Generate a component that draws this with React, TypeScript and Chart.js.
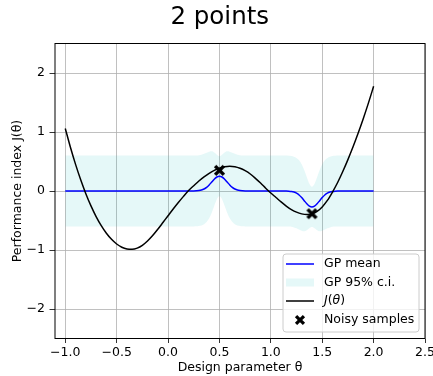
import React, { useEffect, useRef } from 'react';
import { Chart, registerables } from 'chart.js';

Chart.register(...registerables);

// ---- data ----
const jTheta = [-1.0, -0.95, -0.9, -0.85, -0.8, -0.75, -0.7, -0.65, -0.6, -0.55, -0.5, -0.45, -0.4, -0.35, -0.3, -0.25, -0.2, -0.15, -0.1, -0.05, 0, 0.05, 0.1, 0.15, 0.2, 0.25, 0.3, 0.35, 0.4, 0.45, 0.5, 0.55, 0.6, 0.65, 0.7, 0.75, 0.8, 0.85, 0.9, 0.95, 1.0, 1.05, 1.1, 1.15, 1.2, 1.25, 1.3, 1.35, 1.4, 1.45, 1.5, 1.55, 1.6, 1.65, 1.7, 1.75, 1.8, 1.85, 1.9, 1.95, 2.0];
const jValues = [1.06, 0.741, 0.451, 0.19, -0.045, -0.252, -0.433, -0.587, -0.716, -0.819, -0.898, -0.953, -0.983, -0.989, -0.969, -0.921, -0.848, -0.756, -0.649, -0.535, -0.42, -0.306, -0.196, -0.091, 0.008, 0.09, 0.17, 0.24, 0.3, 0.35, 0.385, 0.41, 0.42, 0.411, 0.385, 0.344, 0.288, 0.215, 0.135, 0.048, -0.035, -0.11, -0.185, -0.255, -0.314, -0.359, -0.388, -0.4, -0.389, -0.346, -0.27, -0.16, -0.017, 0.144, 0.33, 0.532, 0.749, 0.982, 1.23, 1.494, 1.774];

const gpTheta = [-1.0, 0.25, 0.275, 0.3, 0.325, 0.35, 0.375, 0.4, 0.425, 0.45, 0.475, 0.5, 0.525, 0.55, 0.575, 0.6, 0.625, 0.65, 0.675, 0.7, 0.725, 0.75, 1.15, 1.175, 1.2, 1.225, 1.25, 1.275, 1.3, 1.325, 1.35, 1.375, 1.4, 1.425, 1.45, 1.475, 1.5, 1.525, 1.55, 1.575, 1.6, 1.625, 1.65, 2.0];
const gpMean = [0, 0.001, 0.003, 0.007, 0.016, 0.034, 0.062, 0.103, 0.152, 0.2, 0.237, 0.25, 0.237, 0.2, 0.152, 0.103, 0.062, 0.034, 0.016, 0.007, 0.003, 0.001, -0.001, -0.003, -0.008, -0.018, -0.036, -0.067, -0.111, -0.164, -0.216, -0.255, -0.27, -0.255, -0.216, -0.164, -0.111, -0.067, -0.036, -0.018, -0.008, -0.003, -0.001, 0];
const gpUpper = [0.6, 0.6, 0.603, 0.607, 0.615, 0.63, 0.649, 0.667, 0.672, 0.651, 0.613, 0.59, 0.613, 0.651, 0.672, 0.667, 0.649, 0.63, 0.615, 0.607, 0.603, 0.6, 0.6, 0.597, 0.592, 0.581, 0.56, 0.52, 0.453, 0.356, 0.235, 0.121, 0.07, 0.121, 0.235, 0.356, 0.453, 0.52, 0.56, 0.581, 0.592, 0.597, 0.6, 0.6];
const gpLower = [-0.6, -0.6, -0.597, -0.593, -0.583, -0.562, -0.525, -0.461, -0.368, -0.251, -0.139, -0.09, -0.139, -0.251, -0.368, -0.461, -0.525, -0.562, -0.583, -0.593, -0.597, -0.6, -0.601, -0.603, -0.608, -0.617, -0.632, -0.654, -0.675, -0.684, -0.667, -0.631, -0.61, -0.631, -0.667, -0.684, -0.675, -0.654, -0.632, -0.617, -0.608, -0.603, -0.601, -0.6];

const sampleTheta = [0.5, 1.4];
const sampleJ = [0.35, -0.385];

const xTicks = [-1.0, -0.5, 0, 0.5, 1.0, 1.5, 2.0, 2.5];
const yTicks = [-2, -1, 0, 1, 2];

const FAMILY = '"DejaVu Sans", sans-serif';
const BAND = 'rgba(0,191,191,0.1)';

const pts = (xs: number[], ys: number[]) => xs.map((x, i) => ({ x, y: ys[i] }));

function makeXMarker(size: number, arm: number, half: number): HTMLCanvasElement {
  const c = document.createElement('canvas');
  c.width = size;
  c.height = size;
  const g = c.getContext('2d')!;
  g.translate(size / 2, size / 2);
  g.rotate(Math.PI / 4);
  g.fillStyle = '#000';
  g.fillRect(-arm, -half, 2 * arm, 2 * half);
  g.fillRect(-half, -arm, 2 * half, 2 * arm);
  return c;
}

export default function App() {
  const ref = useRef<HTMLCanvasElement>(null);

  useEffect(() => {
    const marker = makeXMarker(13, 6.2, 1.75);

    const frameLegend = {
      id: 'frameLegend',
      afterDraw(chart: any) {
        const { ctx, chartArea: ca } = chart;
        ctx.save();
        ctx.strokeStyle = '#000';
        ctx.lineWidth = 1;
        ctx.strokeRect(ca.left, ca.top, ca.right - ca.left, ca.bottom - ca.top);

        const w = 136;
        const h = 78;
        const x0 = ca.right - 6 - w;
        const y0 = ca.bottom - 6.5 - h;
        const r = 3;
        ctx.beginPath();
        ctx.moveTo(x0 + r, y0);
        ctx.lineTo(x0 + w - r, y0);
        ctx.arcTo(x0 + w, y0, x0 + w, y0 + r, r);
        ctx.lineTo(x0 + w, y0 + h - r);
        ctx.arcTo(x0 + w, y0 + h, x0 + w - r, y0 + h, r);
        ctx.lineTo(x0 + r, y0 + h);
        ctx.arcTo(x0, y0 + h, x0, y0 + h - r, r);
        ctx.lineTo(x0, y0 + r);
        ctx.arcTo(x0, y0, x0 + r, y0, r);
        ctx.closePath();
        ctx.fillStyle = 'rgba(255,255,255,0.8)';
        ctx.fill();
        ctx.strokeStyle = '#cccccc';
        ctx.lineWidth = 1;
        ctx.stroke();

        const hx1 = x0 + 3;
        const hx2 = x0 + 31;
        const tx = x0 + 41;
        const rows = [y0 + 10, y0 + 28.5, y0 + 47, y0 + 66];
        const normal = `12.5px ${FAMILY}`;
        const italic = `italic 12.5px ${FAMILY}`;
        ctx.textBaseline = 'middle';
        ctx.textAlign = 'left';
        ctx.fillStyle = '#000';

        // GP mean
        ctx.strokeStyle = '#0000ff';
        ctx.lineWidth = 1.5;
        ctx.beginPath();
        ctx.moveTo(hx1, rows[0]);
        ctx.lineTo(hx2, rows[0]);
        ctx.stroke();
        ctx.font = normal;
        ctx.fillText('GP mean', tx, rows[0]);

        // CI patch
        ctx.fillStyle = BAND;
        ctx.fillRect(hx1, rows[1] - 4, hx2 - hx1, 8);
        ctx.fillStyle = '#000';
        ctx.fillText('GP 95% c.i.', tx, rows[1]);

        // J line
        ctx.strokeStyle = '#000';
        ctx.beginPath();
        ctx.moveTo(hx1, rows[2]);
        ctx.lineTo(hx2, rows[2]);
        ctx.stroke();
        const parts: [string, string][] = [['J', italic], ['(', normal], ['θ', italic], [')', normal]];
        let cx = tx;
        for (const [t, f] of parts) {
          ctx.font = f;
          ctx.fillText(t, cx, rows[2]);
          cx += ctx.measureText(t).width;
        }

        // samples
        const m = makeXMarker(12, 5.6, 1.6);
        ctx.drawImage(m, (hx1 + hx2) / 2 - 6, rows[3] - 6);
        ctx.font = normal;
        ctx.fillText('Noisy samples', tx, rows[3]);
        ctx.restore();
      },
    };

    const axisCommon = {
      grid: { color: '#b0b0b0', lineWidth: 0.8, tickColor: '#000', tickLength: 5, drawTicks: true },
      border: { display: false },
    };

    const chart = new Chart(ref.current!, {
      type: 'line',
      data: {
        datasets: [
          {
            label: 'Noisy samples',
            data: pts(sampleTheta, sampleJ),
            showLine: false,
            pointStyle: marker as any,
            pointRadius: 6,
            borderWidth: 0,
          },
          {
            label: 'J',
            data: pts(jTheta, jValues),
            borderColor: '#000',
            borderWidth: 1.5,
            pointRadius: 0,
            cubicInterpolationMode: 'monotone',
            fill: false,
          },
          {
            label: 'GP mean',
            data: pts(gpTheta, gpMean),
            borderColor: '#0000ff',
            borderWidth: 1.5,
            pointRadius: 0,
            cubicInterpolationMode: 'monotone',
            fill: false,
          },
          {
            label: 'upper',
            data: pts(gpTheta, gpUpper),
            borderColor: 'rgba(0,0,0,0)',
            borderWidth: 0,
            pointRadius: 0,
            cubicInterpolationMode: 'monotone',
            backgroundColor: BAND,
            fill: '+1',
          },
          {
            label: 'lower',
            data: pts(gpTheta, gpLower),
            borderColor: 'rgba(0,0,0,0)',
            borderWidth: 0,
            pointRadius: 0,
            cubicInterpolationMode: 'monotone',
            fill: false,
          },
        ] as any,
      },
      options: {
        animation: false,
        responsive: false,
        events: [],
        layout: { padding: { left: 8, right: 1.5, top: 0, bottom: 0 } },
        font: { family: FAMILY },
        plugins: {
          legend: { display: false },
          tooltip: { enabled: false },
          title: {
            display: true,
            text: '2 points',
            color: '#000',
            font: { family: FAMILY, size: 24.5, weight: 'normal' },
            padding: { top: 3.3, bottom: 10.8 },
          },
        },
        scales: {
          x: {
            type: 'linear',
            min: -1.1,
            max: 2.5,
            ...axisCommon,
            grid: { ...axisCommon.grid, tickLength: 4.5 },
            afterBuildTicks: (s: any) => {
              s.ticks = xTicks.map((v) => ({ value: v }));
            },
            afterFit: (s: any) => {
              s.height = 37.5;
              s.paddingLeft = 0;
              s.paddingRight = 8;
            },
            ticks: {
              color: '#000',
              font: { family: FAMILY, size: 12.5 },
              padding: 2.5,
              autoSkip: false,
              maxRotation: 0,
              callback: (v: any) => Number(v).toFixed(1).replace('-', '\u2212'),
            },
            title: {
              display: true,
              text: 'Design parameter θ',
              color: '#000',
              font: { family: FAMILY, size: 12.5 },
              padding: { top: 0, bottom: 0.5 },
            },
          },
          y: {
            type: 'linear',
            min: -2.5,
            max: 2.5,
            ...axisCommon,
            grid: { ...axisCommon.grid, tickLength: 5.5 },
            afterBuildTicks: (s: any) => {
              s.ticks = yTicks.map((v) => ({ value: v }));
            },
            afterFit: (s: any) => {
              s.width = 47;
            },
            ticks: {
              color: '#000',
              font: { family: FAMILY, size: 12.5 },
              padding: 4.5,
              autoSkip: false,
              callback: (v: any) => String(Number(v)).replace('-', '\u2212'),
            },
            title: {
              display: true,
              text: 'Performance index J(θ)',
              color: '#000',
              font: { family: FAMILY, size: 12.5 },
              padding: { top: 2.5, bottom: 0 },
            },
          },
        },
      } as any,
      plugins: [frameLegend],
    });

    return () => chart.destroy();
  }, []);

  return (
    <div style={{ position: 'fixed', left: 0, top: 0, width: 433, height: 376, background: '#fff' }}>
      <canvas ref={ref} width={433} height={376} style={{ display: 'block' }} />
    </div>
  );
}
